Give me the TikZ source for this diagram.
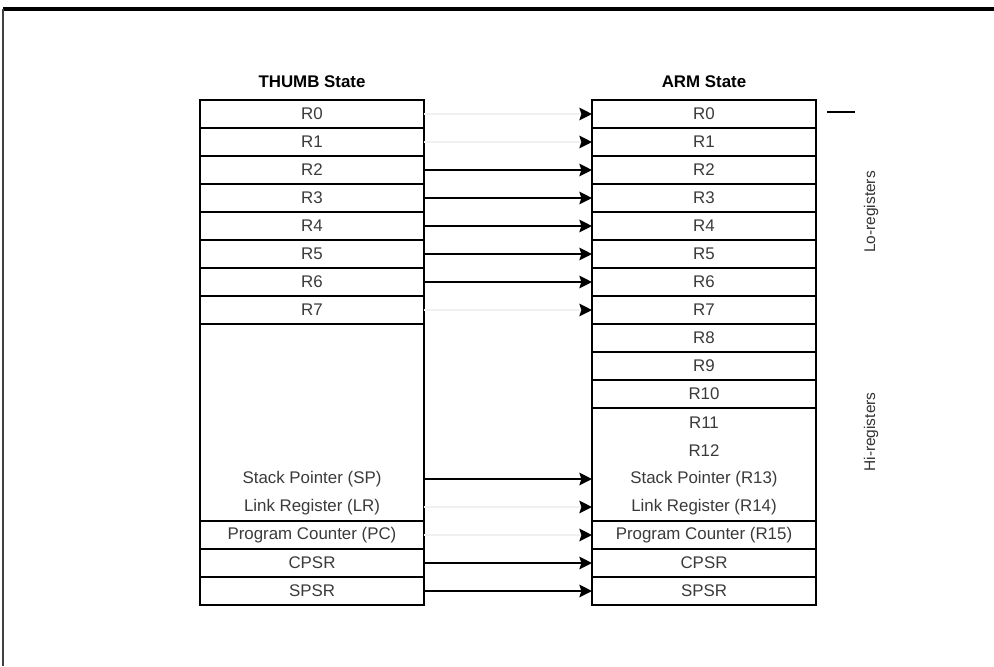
\documentclass[tikz,border=0pt]{standalone}
\usepackage{fontspec}
\setsansfont{Liberation Sans}
\usepackage{tikz}
\usetikzlibrary{arrows.meta, positioning, calc}
\definecolor{regtext}{HTML}{3A3A3A}

\tikzset{
    reg/.style={draw, line width=1pt, minimum height=0.7cm, inner sep=0pt, outer sep=0pt, text=regtext},
    thumbreg/.style={reg, minimum width=5.6cm},
    armreg/.style={reg, minimum width=5.6cm},
    plain/.style={inner sep=0pt, text=regtext},
    maparrow/.style={-{Stealth[length=9pt, width=9pt, inset=1.5pt]}, line width=1pt},
    fadearrow/.style={-{Stealth[length=9pt, width=9pt, inset=1.5pt, color=black]}, line width=1pt, draw=black!6},
    sidelabel/.style={rotate=90, font=\sffamily\fontsize{11}{12}\selectfont, text=black!80}
}

\begin{document}
\begin{tikzpicture}[>=Stealth, font=\sffamily\fontsize{12}{14}\selectfont, x=0.025cm, y=-0.025cm]
    \useasboundingbox (0, 0) rectangle (994, 666);

    % ── Frame ────────────────────────────────────────────────────────
    \draw[line width=2.5pt] (3, 9) -- (994, 9);
    \draw[line width=1.5pt, black!75] (3, 9) -- (3, 666);

    % ── THUMB State ──────────────────────────────────────────────────
    \node[font=\sffamily\bfseries\fontsize{12}{14}\selectfont] (thumbtitle) at (312, 82) {THUMB State};
    \foreach \i in {0,...,7}{
        \node[thumbreg] (t\i) at (312, {114+28*\i}) {R\i};
    }
    \node[reg, minimum width=5.6cm, minimum height=4.925cm] (tgap) at (312, 422.5) {};
    \node[plain] (tsp) at (312, 479) {Stack Pointer (SP)};
    \node[plain] (tlr) at (312, 507) {Link Register (LR)};
    \node[thumbreg] (tpc) at (312, 535) {Program Counter (PC)};
    \node[thumbreg] (tcpsr) at (312, 563) {CPSR};
    \node[thumbreg] (tspsr) at (312, 591) {SPSR};

    % ── ARM State ────────────────────────────────────────────────────
    \node[font=\sffamily\bfseries\fontsize{12}{14}\selectfont] (armtitle) at (704, 82) {ARM State};
    \foreach \i in {0,...,10}{
        \node[armreg] (a\i) at (704, {114+28*\i}) {R\i};
    }
    \node[reg, minimum width=5.6cm, minimum height=2.825cm] (agap) at (704, 464.5) {};
    \node[plain] (a11) at (704, 423) {R11};
    \node[plain] (a12) at (704, 451) {R12};
    \node[plain] (asp) at (704, 479) {Stack Pointer (R13)};
    \node[plain] (alr) at (704, 507) {Link Register (R14)};
    \node[armreg] (apc) at (704, 535) {Program Counter (R15)};
    \node[armreg] (acpsr) at (704, 563) {CPSR};
    \node[armreg] (aspsr) at (704, 591) {SPSR};

    % ── Mapping arrows ───────────────────────────────────────────────
    \foreach \i in {2,...,6}{
        \draw[maparrow] (t\i.east) -- (a\i.west);
    }
    \foreach \i in {0,1,7}{
        \draw[fadearrow] (t\i.east) -- (a\i.west);
    }
    \draw[maparrow] (tsp -| tgap.east) -- (asp -| agap.west);
    \draw[fadearrow] (tlr -| tgap.east) -- (alr -| agap.west);
    \draw[fadearrow] (tpc.east) -- (apc.west);
    \draw[maparrow] (tcpsr.east) -- (acpsr.west);
    \draw[maparrow] (tspsr.east) -- (aspsr.west);

    % ── Register groups ──────────────────────────────────────────────
    \coordinate (lotick) at (827, 112);
    \draw[line width=1pt] (lotick) -- ++(28, 0);
    \node[sidelabel] (lolabel) at (871, 212) {Lo-registers};
    \node[sidelabel] (hilabel) at (871, 432) {Hi-registers};
\end{tikzpicture}
\end{document}
